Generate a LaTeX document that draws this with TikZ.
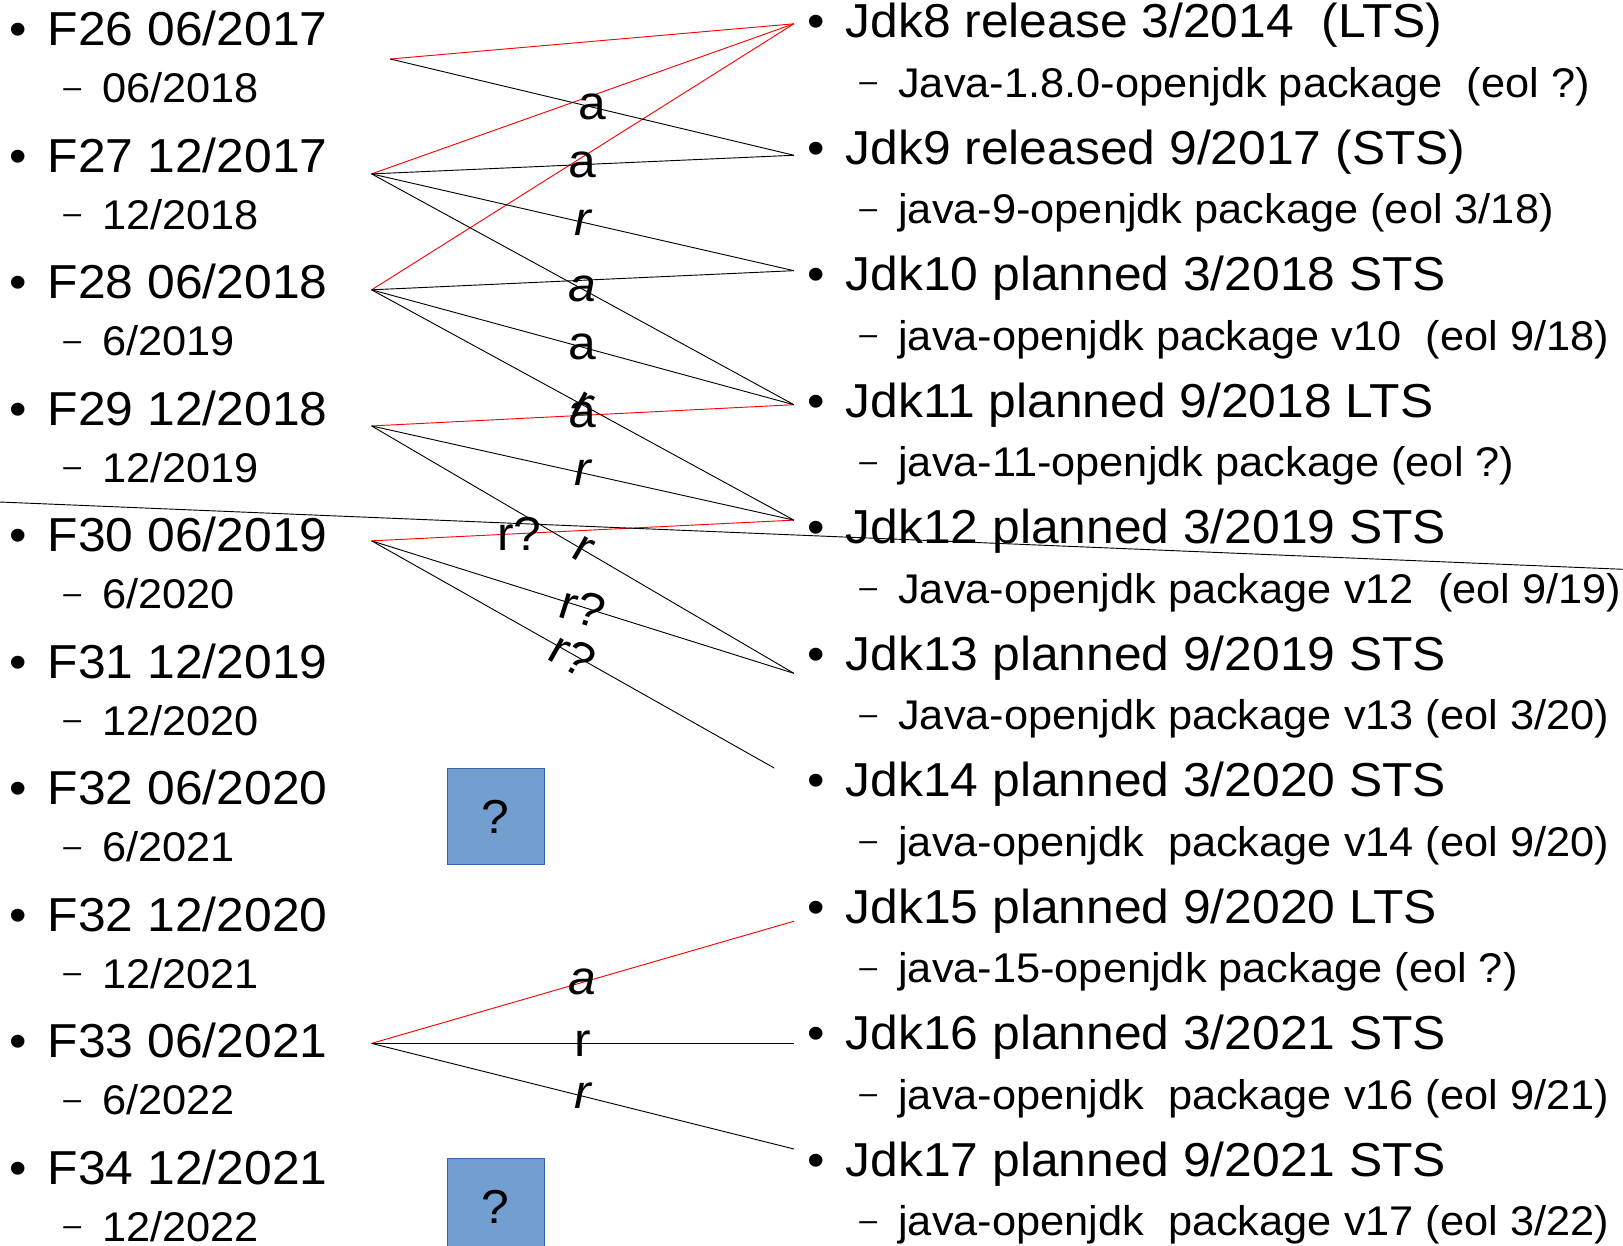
\documentclass[tikz,border=0pt]{standalone}
\usepackage{fontspec}
\setmainfont{Liberation Sans}[FakeStretch=1.045]
\definecolor{qfill}{HTML}{729FCF}
\definecolor{qline}{HTML}{3465A4}

\begin{document}
\begin{tikzpicture}[x=0.6737pt,y=-0.6737pt,
    item/.style={anchor=base west,inner sep=0pt,font=\fontsize{31}{37}\selectfont,
      execute at begin node={\makebox[0pt]{\textbullet}\hspace{19.07pt}}},
    subitem/.style={anchor=base west,inner sep=0pt,font=\fontsize{27}{32}\selectfont,
      execute at begin node={\makebox[25.3pt][l]{\raisebox{3.5pt}{\fontsize{20}{20}\selectfont –}}}},
    link/.style={line width=0.6pt},
    redlink/.style={link,draw=red},
    tag/.style={inner sep=0pt,font=\fontsize{31}{37}\selectfont},
    tagit/.style={tag,font=\fontsize{31}{37}\selectfont\itshape},
    qbox/.style={draw=qline,fill=qfill,line width=0.7pt,minimum width=63pt,minimum height=62.2pt,inner sep=0pt,font=\fontsize{31}{37}\selectfont}]

    \useasboundingbox (0,0) rectangle (1568,1203);
    \clip (0,0) rectangle (1568,1203);

    % fedora releases
    \node[item] (F26) at (17.7,44.1) {F26 06/2017};
    \node[subitem] (F26e) at (61,99.2) {06/2018};
    \node[item] (F27) at (17.7,166.3) {F27 12/2017};
    \node[subitem] (F27e) at (61,221.4) {12/2018};
    \node[item] (F28) at (17.7,288.5) {F28 06/2018};
    \node[subitem] (F28e) at (61,343.6) {6/2019};
    \node[item] (F29) at (17.7,410.7) {F29 12/2018};
    \node[subitem] (F29e) at (61,465.8) {12/2019};
    \node[item] (F30) at (17.7,532.9) {F30 06/2019};
    \node[subitem] (F30e) at (61,588) {6/2020};
    \node[item] (F31) at (17.7,655.1) {F31 12/2019};
    \node[subitem] (F31e) at (61,710.2) {12/2020};
    \node[item] (F32a) at (17.7,777.3) {F32 06/2020};
    \node[subitem] (F32ae) at (61,832.4) {6/2021};
    \node[item] (F32b) at (17.7,899.5) {F32 12/2020};
    \node[subitem] (F32be) at (61,954.6) {12/2021};
    \node[item] (F33) at (17.7,1021.7) {F33 06/2021};
    \node[subitem] (F33e) at (61,1076.8) {6/2022};
    \node[item] (F34) at (17.7,1143.9) {F34 12/2021};
    \node[subitem] (F34e) at (61,1199) {12/2022};

    % jdk releases
    \node[item] (J8) at (788.5,36.4) {Jdk8 release 3/2014~ (LTS)};
    \node[subitem] (J8p) at (830,94) {Java-1.8.0-openjdk package~ (eol ?)};
    \node[item] (J9) at (788.5,158.6) {Jdk9 released 9/2017 (STS)};
    \node[subitem] (J9p) at (830,216.2) {java-9-openjdk package (eol 3/18)};
    \node[item] (J10) at (788.5,280.8) {Jdk10 planned 3/2018 STS};
    \node[subitem] (J10p) at (830,338.4) {java-openjdk package v10~ (eol 9/18)};
    \node[item] (J11) at (788.5,403) {Jdk11 planned 9/2018 LTS};
    \node[subitem] (J11p) at (830,460.6) {java-11-openjdk package (eol ?)};
    \node[item] (J12) at (788.5,525.2) {Jdk12 planned 3/2019 STS};
    \node[subitem] (J12p) at (830,582.8) {Java-openjdk package v12~ (eol 9/19)};
    \node[item] (J13) at (788.5,647.4) {Jdk13 planned 9/2019 STS};
    \node[subitem] (J13p) at (830,705) {Java-openjdk package v13 (eol 3/20)};
    \node[item] (J14) at (788.5,769.6) {Jdk14 planned 3/2020 STS};
    \node[subitem] (J14p) at (830,827.2) {java-openjdk~ package v14 (eol 9/20)};
    \node[item] (J15) at (788.5,891.8) {Jdk15 planned 9/2020 LTS};
    \node[subitem] (J15p) at (830,949.4) {java-15-openjdk package (eol ?)};
    \node[item] (J16) at (788.5,1014) {Jdk16 planned 3/2021 STS};
    \node[subitem] (J16p) at (830,1071.6) {java-openjdk~ package v16 (eol 9/21)};
    \node[item] (J17) at (788.5,1136.2) {Jdk17 planned 9/2021 STS};
    \node[subitem] (J17p) at (830,1193.8) {java-openjdk~ package v17 (eol 3/22)};

    \node[qbox] (q1) at (479,789) {?};
    \node[qbox] (q2) at (479,1165.5) {?};

    % line ends
    \coordinate (f26) at (377,57);
    \coordinate (f27) at (359,168);
    \coordinate (f28) at (359,280);
    \coordinate (f29) at (359,411.5);
    \coordinate (f30) at (359,522.5);
    \coordinate (f33) at (359,1008);
    \coordinate (j8) at (767,23);
    \coordinate (j9) at (767,150);
    \coordinate (j10) at (767,261.5);
    \coordinate (j11) at (767,391);
    \coordinate (j12) at (767,502.5);
    \coordinate (j13) at (767,650.5);
    \coordinate (j14) at (748,742);
    \coordinate (j15) at (767,890);
    \coordinate (j16) at (767,1008);
    \coordinate (j17) at (767,1110);
    \coordinate (strayl) at (0,485);
    \coordinate (strayr) at (1568,550);

    \draw[redlink] (f26) -- (j8);
    \draw[redlink] (f27) -- (j8);
    \draw[redlink] (f28) -- (j8);
    \draw[redlink] (f29) -- node[tag] {a} (j11);
    \draw[redlink] (f30) -- node[tag,pos=0.35] {r?} (j12);
    \draw[redlink] (f33) -- node[tagit] {a} (j15);

    \draw[link] (f26) -- node[tag] {a} (j9);
    \draw[link] (f27) -- node[tag] {a} (j9);
    \draw[link] (f27) -- node[tagit] {r} (j10);
    \draw[link] (f27) -- node[tagit] {a} (j11);
    \draw[link] (f28) -- (j10);
    \draw[link] (f28) -- node[tag] {a} (j11);
    \draw[link] (f28) -- node[tag,sloped] {r} (j12);
    \draw[link] (f29) -- node[tagit] {r} (j12);
    \draw[link] (f29) -- node[tag,sloped] {r} (j13);
    \draw[link] (f30) -- node[tag,sloped] {r?} (j13);
    \draw[link] (f30) -- node[tag,sloped] {r?} (j14);
    \draw[link] (strayl) -- (strayr);
    \draw[link] (f33) -- node[tag] {r} (j16);
    \draw[link] (f33) -- node[tagit] {r} (j17);
\end{tikzpicture}
\end{document}
